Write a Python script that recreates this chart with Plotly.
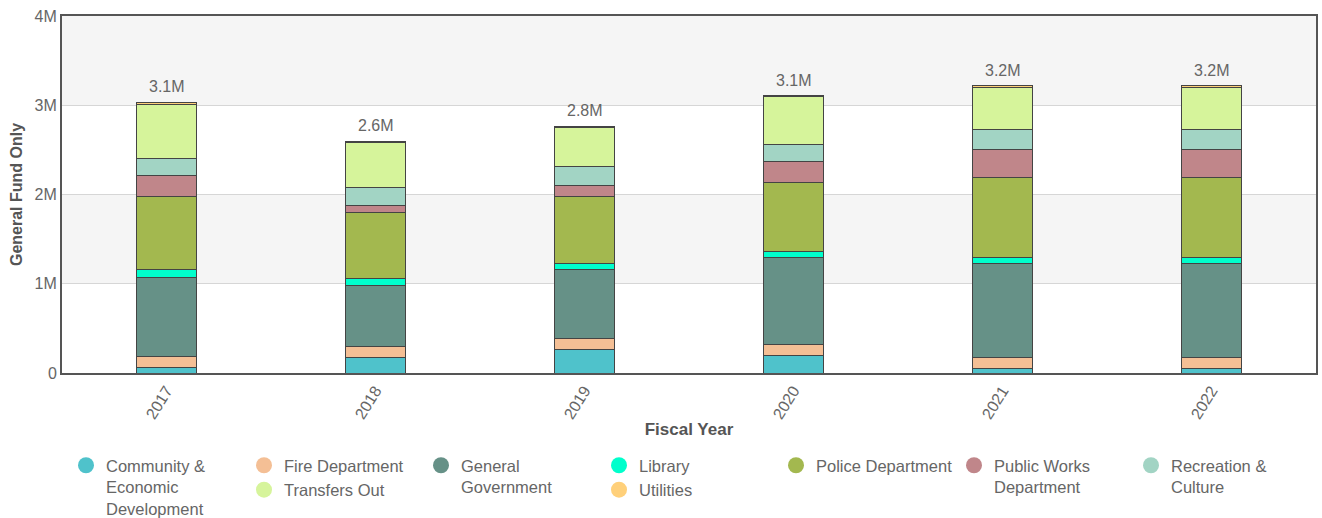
import plotly.graph_objects as go

years = ["2017", "2018", "2019", "2020", "2021", "2022"]

community = [67000, 173000, 266000, 194000, 56000, 56000]
fire = [120000, 119000, 120000, 120000, 123000, 123000]
general_gov = [885000, 688000, 769000, 980000, 1049000, 1049000]
library = [86000, 82000, 67000, 67000, 67000, 67000]
police = [825000, 732000, 751000, 778000, 890000, 890000]
public_works = [232000, 83000, 131000, 235000, 314000, 314000]
recreation = [194000, 205000, 213000, 190000, 227000, 227000]
transfers = [598000, 504000, 434000, 530000, 474000, 474000]
utilities = [29000, 10000, 15000, 15000, 19000, 19000]

total_labels = ["3.1M", "2.6M", "2.8M", "3.1M", "3.2M", "3.2M"]

y_tickvals = [0, 1000000, 2000000, 3000000, 4000000]
y_ticktext = ["0", "1M", "2M", "3M", "4M"]

series = [
    ("Community & Economic Development", "Community &<br>Economic<br>Development", community, "#4fc2cb", "legend"),
    ("Fire Department", "Fire Department", fire, "#f4bf95", "legend2"),
    ("General Government", "General<br>Government", general_gov, "#669187", "legend3"),
    ("Library", "Library", library, "#00ffcc", "legend4"),
    ("Police Department", "Police Department", police, "#a3b84f", "legend5"),
    ("Public Works Department", "Public Works<br>Department", public_works, "#c0868a", "legend6"),
    ("Recreation & Culture", "Recreation &<br>Culture", recreation, "#a2d4c4", "legend7"),
    ("Transfers Out", "Transfers Out", transfers, "#d6f49b", "legend2"),
    ("Utilities", "Utilities", utilities, "#ffd07a", "legend4"),
]

FONT = "Liberation Sans"
GRAY = "#666666"

fig = go.Figure()
for name, label, vals, color, leg in series:
    fig.add_trace(go.Bar(
        x=years, y=vals, name=name, legendgroup=name, showlegend=False,
        marker=dict(color=color, line=dict(color="#444444", width=1)),
        width=0.29, hoverinfo="x+y+name",
    ))

# legend-only circle markers
for name, label, vals, color, leg in series:
    fig.add_trace(go.Scatter(
        x=[None], y=[None], mode="markers", name=label, legendgroup=name,
        marker=dict(color=color, size=16, symbol="circle"),
        showlegend=True, legend=leg,
    ))

totals = [sum(v) for v in zip(community, fire, general_gov, library, police,
                                public_works, recreation, transfers, utilities)]
for i, (tot, lab) in enumerate(zip(totals, total_labels)):
    fig.add_annotation(x=i, y=tot, text=lab, showarrow=False, yanchor="bottom",
                       yshift=5, font=dict(family=FONT, size=16, color=GRAY))

plot_l, plot_r, plot_t, plot_b = 62, 1316, 16, 373
W, H = 1322, 518

def px_to_paper_x(px):
    return (px - plot_l) / (plot_r - plot_l)

def py_to_paper_y(py):
    return (plot_b - py) / (plot_b - plot_t)

shapes = []
for y0, y1 in [(1000000, 2000000), (3000000, 4000000)]:
    shapes.append(dict(type="rect", xref="paper", yref="y", x0=0, x1=1, y0=y0, y1=y1,
                       fillcolor="#f5f5f5", line=dict(width=0), layer="below"))

legend_cols = {"legend": 87, "legend2": 265, "legend3": 442, "legend4": 620,
               "legend5": 797, "legend6": 975, "legend7": 1152}
legend_layout = {}
for key, cx in legend_cols.items():
    legend_layout[key] = dict(
        x=px_to_paper_x(cx - 21), y=py_to_paper_y(448), xanchor="left", yanchor="top",
        orientation="v", valign="top", tracegroupgap=0, itemsizing="trace",
        font=dict(family=FONT, size=16.5, color=GRAY), bgcolor="rgba(0,0,0,0)",
        traceorder="normal",
    )

fig.update_layout(
    width=W, height=H, barmode="stack",
    margin=dict(l=plot_l, r=W - plot_r, t=plot_t, b=H - plot_b, pad=0, autoexpand=False),
    paper_bgcolor="white", plot_bgcolor="white",
    font=dict(family=FONT, color=GRAY),
    shapes=shapes,
    xaxis=dict(
        type="category", categoryorder="array", categoryarray=years,
        tickangle=-58, tickfont=dict(family=FONT, size=16, color=GRAY),
        showline=True, linecolor="#555555", linewidth=2, mirror=True,
        ticks="", title=dict(text="Fiscal Year", font=dict(family=FONT, size=17, color="#555555", weight="bold"), standoff=2),
    ),
    yaxis=dict(
        range=[0, 4000000], tickvals=y_tickvals, ticktext=y_ticktext,
        tickfont=dict(family=FONT, size=16, color=GRAY),
        showgrid=True, gridcolor="#d6d6d6", gridwidth=1, zeroline=False,
        showline=True, linecolor="#555555", linewidth=2, mirror=True, ticks="",
        title=dict(text="General Fund Only", font=dict(family=FONT, size=16, color="#555555", weight="bold"), standoff=8),
    ),
    **legend_layout,
)

fig.write_html("out.html")
